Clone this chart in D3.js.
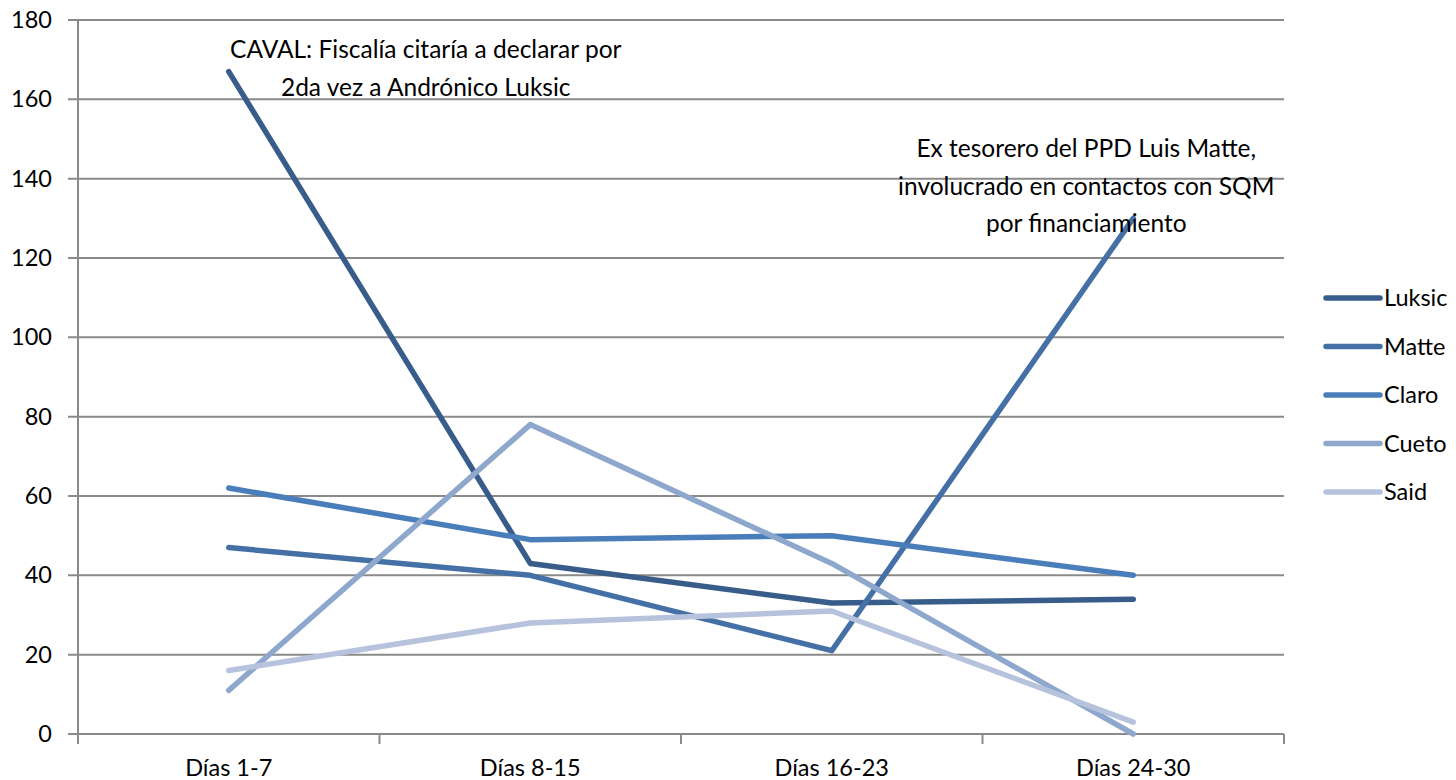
<!DOCTYPE html>
<html>
<head>
<meta charset="utf-8">
<script src="https://cdn.jsdelivr.net/npm/d3@7"></script>
<style>
  body { margin: 0; background: #fff; }
  svg text { font-family: Lato, "Noto Sans", sans-serif; fill: #000; font-size: 23.5px; }
  svg text.note { font-size: 24.5px; }
</style>
</head>
<body>
<svg id="chart" width="1456" height="780"></svg>
<script>
const categories = ['Días 1-7', 'Días 8-15', 'Días 16-23', 'Días 24-30'];
const seriesNames = ['Luksic', 'Matte', 'Claro', 'Cueto', 'Said'];
const luksic = [167, 43, 33, 34];
const matte = [47, 40, 21, 130];
const claro = [62, 49, 50, 40];
const cueto = [11, 78, 43, 0];
const said = [16, 28, 31, 3];
const yTicks = [0, 20, 40, 60, 80, 100, 120, 140, 160, 180];
const colors = ['#385D8A', '#4470A6', '#4A7EBB', '#8EA7CD', '#B7C3DD'];

const annotations = [
    { lines: ['CAVAL: Fiscalía citaría a declarar por', '2da vez a Andrónico Luksic'], cat: 'Días 1-7', value: 170.4, dx: 197 },
    { lines: ['Ex tesorero del PPD Luis Matte,', 'involucrado en contactos con SQM', 'por financiamiento'], cat: 'Días 24-30', value: 145.4, dx: -47 }
];

const data = seriesNames.map(function (name, i) {
    return { name: name, values: [luksic, matte, claro, cueto, said][i], color: colors[i] };
});

const plot = { left: 78, right: 1284, top: 20, bottom: 734 };
const svg = d3.select('#chart');

const x = d3.scaleBand().domain(categories).range([plot.left, plot.right]);
const y = d3.scaleLinear().domain([0, 180]).range([plot.bottom, plot.top]);

// horizontal gridlines
svg.append('g')
    .selectAll('line')
    .data(yTicks)
    .enter()
    .append('line')
    .attr('x1', plot.left - 10)
    .attr('x2', plot.right)
    .attr('y1', d => y(d))
    .attr('y2', d => y(d))
    .attr('stroke', '#8a8a8a')
    .attr('stroke-width', 2);

// y axis line
svg.append('line')
    .attr('x1', plot.left).attr('x2', plot.left)
    .attr('y1', plot.top).attr('y2', plot.bottom)
    .attr('stroke', '#8a8a8a').attr('stroke-width', 2);

// y tick labels
svg.append('g')
    .selectAll('text')
    .data(yTicks)
    .enter()
    .append('text')
    .attr('x', plot.left - 26)
    .attr('y', d => y(d) + 8)
    .attr('text-anchor', 'end')
    .text(d => d);

// x tick marks between categories
const boundaries = categories.map(c => x(c)).concat([plot.right]);
svg.append('g')
    .selectAll('line')
    .data(boundaries)
    .enter()
    .append('line')
    .attr('x1', d => d).attr('x2', d => d)
    .attr('y1', plot.bottom).attr('y2', plot.bottom + 10)
    .attr('stroke', '#8a8a8a').attr('stroke-width', 2);

// x labels
svg.append('g')
    .selectAll('text')
    .data(categories)
    .enter()
    .append('text')
    .attr('x', d => x(d) + x.bandwidth() / 2)
    .attr('y', plot.bottom + 42)
    .attr('text-anchor', 'middle')
    .text(d => d);

// lines
const line = d3.line()
    .x((d, i) => x(categories[i]) + x.bandwidth() / 2)
    .y(d => y(d));

svg.append('g')
    .selectAll('path')
    .data(data)
    .enter()
    .append('path')
    .attr('d', d => line(d.values))
    .attr('fill', 'none')
    .attr('stroke', d => d.color)
    .attr('stroke-width', 5.5)
    .attr('stroke-linecap', 'round')
    .attr('stroke-linejoin', 'round');

// annotations
annotations.forEach(function (a) {
    const t = svg.append('text')
        .attr('class', 'note')
        .attr('text-anchor', 'middle');
    a.lines.forEach(function (l, i) {
        t.append('tspan')
            .attr('x', x(a.cat) + x.bandwidth() / 2 + a.dx)
            .attr('y', y(a.value) + i * 37.5)
            .text(l);
    });
});

// legend
const legend = svg.append('g')
    .selectAll('g')
    .data(data)
    .enter()
    .append('g')
    .attr('transform', (d, i) => 'translate(1326,' + (298 + i * 48.5) + ')');

legend.append('line')
    .attr('x1', 0).attr('x2', 54)
    .attr('stroke', d => d.color)
    .attr('stroke-width', 5.5)
    .attr('stroke-linecap', 'round');

legend.append('text')
    .attr('x', 58)
    .attr('y', 8)
    .text(d => d.name);
</script>
</body>
</html>
